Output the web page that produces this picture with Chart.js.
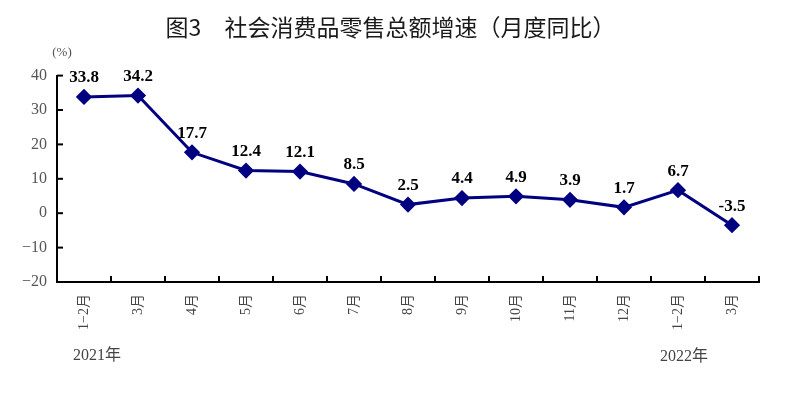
<!DOCTYPE html>
<html>
<head>
<meta charset="utf-8">
<script src="https://cdn.jsdelivr.net/npm/chart.js@4"></script>
<style>
  html, body { margin: 0; padding: 0; background: #fff; }
  #wrap { width: 800px; height: 396px; }
</style>
</head>
<body>
<div id="wrap"><canvas id="chart" width="800" height="396"></canvas></div>
<script>
// chart data
const months = ['1\u22122月', '3月', '4月', '5月', '6月', '7月', '8月', '9月', '10月', '11月', '12月', '1\u22122月', '3月'];
const growth = [33.8, 34.2, 17.7, 12.4, 12.1, 8.5, 2.5, 4.4, 4.9, 3.9, 1.7, 6.7, -3.5];
const yearLabels = ['2021年', '2022年'];
const yearStartIndex = [0, 11];

const serif = "'Liberation Serif', 'Times New Roman', 'Noto Sans CJK SC', serif";

// axis ticks pointing inward, value labels, year + unit text
const extras = {
  id: 'extras',
  afterDraw(chart) {
    const c = chart.ctx;
    const x = chart.scales.x, y = chart.scales.y;
    const area = chart.chartArea;
    c.save();
    c.strokeStyle = '#000';
    c.lineWidth = 2;
    // y ticks
    y.ticks.forEach(t => {
      const py = y.getPixelForValue(t.value);
      c.beginPath();
      c.moveTo(area.left, py);
      c.lineTo(area.left + 6, py);
      c.stroke();
    });
    // x ticks at category boundaries
    const step = x.getPixelForValue(1) - x.getPixelForValue(0);
    for (let i = 1; i <= months.length; i++) {
      const px = x.getPixelForValue(i) - step / 2;
      c.beginPath();
      c.moveTo(px, area.bottom);
      c.lineTo(px, area.bottom - 6);
      c.stroke();
    }
    // value labels
    const meta = chart.getDatasetMeta(0);
    c.fillStyle = '#000';
    c.font = 'bold 17px ' + serif;
    c.textAlign = 'center';
    c.textBaseline = 'middle';
    meta.data.forEach((pt, i) => {
      c.fillText(growth[i].toFixed(1), pt.x, pt.y - 19);
    });
    // unit
    c.fillStyle = '#555';
    c.font = '13px ' + serif;
    c.fillText('(%)', 62, 53);
    // years
    c.font = '16px ' + serif;
    c.textAlign = 'left';
    c.fillStyle = '#444';
    c.fillText(yearLabels[0], x.getPixelForValue(yearStartIndex[0]) - 11, 356);
    c.fillText(yearLabels[1], x.getPixelForValue(yearStartIndex[1]) - 18, 357);
    c.restore();
  }
};

new Chart(document.getElementById('chart'), {
  type: 'line',
  data: {
    labels: months,
    datasets: [{
      data: growth,
      borderColor: '#000080',
      backgroundColor: '#000080',
      borderWidth: 3,
      pointStyle: 'rectRot',
      pointRadius: 6,
      pointHoverRadius: 6,
      tension: 0,
      fill: false
    }]
  },
  options: {
    responsive: false,
    animation: false,
    layout: { padding: { left: 22, right: 41, top: 0, bottom: 0 } },
    plugins: {
      legend: { display: false },
      tooltip: { enabled: false },
      title: {
        display: true,
        text: '图3　社会消费品零售总额增速（月度同比）',
        color: '#1a1a1a',
        font: { family: "'Noto Sans CJK SC', sans-serif", size: 23, weight: 'normal' },
        padding: { top: 13, bottom: 35 }
      }
    },
    scales: {
      x: {
        offset: true,
        afterFit(s) { s.height = 114; },
        grid: { display: false, drawTicks: false },
        border: { display: true, color: '#000', width: 2 },
        ticks: {
          minRotation: 90,
          maxRotation: 90,
          padding: 12,
          color: '#444',
          font: { family: serif, size: 14 }
        }
      },
      y: {
        min: -20,
        max: 40,
        afterFit(s) { s.width = 35; },
        grid: { display: false, drawTicks: false },
        border: { display: true, color: '#000', width: 2 },
        ticks: {
          stepSize: 10,
          padding: 10,
          color: '#555',
          font: { family: serif, size: 16 },
          callback: v => String(v).replace('-', '\u2212')
        }
      }
    }
  },
  plugins: [extras]
});
</script>
</body>
</html>
